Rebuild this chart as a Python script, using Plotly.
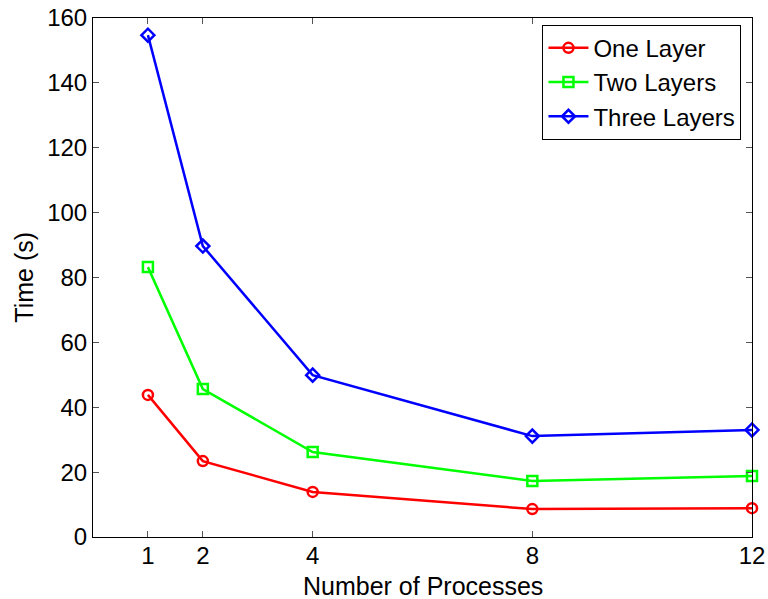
import plotly.graph_objects as go

processes = [1, 2, 4, 8, 12]
one_layer = [43.8, 23.4, 13.9, 8.6, 8.9]
two_layers = [83.2, 45.6, 26.2, 17.3, 18.8]
three_layers = [154.7, 89.7, 49.9, 31.1, 33.0]

series = [
    ("One Layer", one_layer, "#ff0000", "circle-open"),
    ("Two Layers", two_layers, "#00ff00", "square-open"),
    ("Three Layers", three_layers, "#0000ff", "diamond-open"),
]

fig = go.Figure()
for name, vals, color, sym in series:
    fig.add_trace(go.Scatter(
        x=processes, y=vals, name=name, mode="lines+markers",
        line=dict(color=color, width=2.5),
        marker=dict(symbol=sym, size=10, color=color, line=dict(width=2.5, color=color)),
        cliponaxis=False,
    ))

font = "Liberation Sans, Arial, Helvetica, sans-serif"
fig.update_layout(
    width=768, height=599,
    margin=dict(l=93, r=16, t=18, b=62),
    paper_bgcolor="white", plot_bgcolor="white",
    font=dict(family=font, size=24, color="black"),
    showlegend=True,
    legend=dict(
        x=0.984, y=0.987, xanchor="right", yanchor="top",
        bordercolor="black", borderwidth=1, bgcolor="white",
        font=dict(size=24, family=font), tracegroupgap=0,
        itemwidth=40,
    ),
    xaxis=dict(
        range=[0, 12], tickvals=processes, ticktext=[str(p) for p in processes],
        ticks="inside", ticklen=6, tickcolor="#555", showgrid=False, zeroline=False,
        showline=True, linecolor="black", linewidth=1, mirror="ticks",
        tickfont=dict(size=24), automargin=False, ticklabelstandoff=-3,
    ),
    yaxis=dict(
        range=[0, 160], tickvals=list(range(0, 161, 20)),
        ticks="inside", ticklen=6, tickcolor="#555", showgrid=False, zeroline=False,
        showline=True, linecolor="black", linewidth=1, mirror="ticks",
        tickfont=dict(size=24), automargin=False,
    ),
    annotations=[
        dict(text="Number of Processes", xref="paper", yref="paper",
             x=0.5, y=-0.094, xanchor="center", yanchor="middle",
             showarrow=False, font=dict(size=25, family=font)),
        dict(text="Time (s)", xref="paper", yref="paper",
             x=-0.106, y=0.5, xanchor="center", yanchor="middle",
             textangle=-90, showarrow=False, font=dict(size=25, family=font)),
    ],
)

fig.write_html(
    "out.html",
    config={"displayModeBar": False},
    post_script="document.body.style.margin='0';document.body.style.overflow='hidden';",
)
